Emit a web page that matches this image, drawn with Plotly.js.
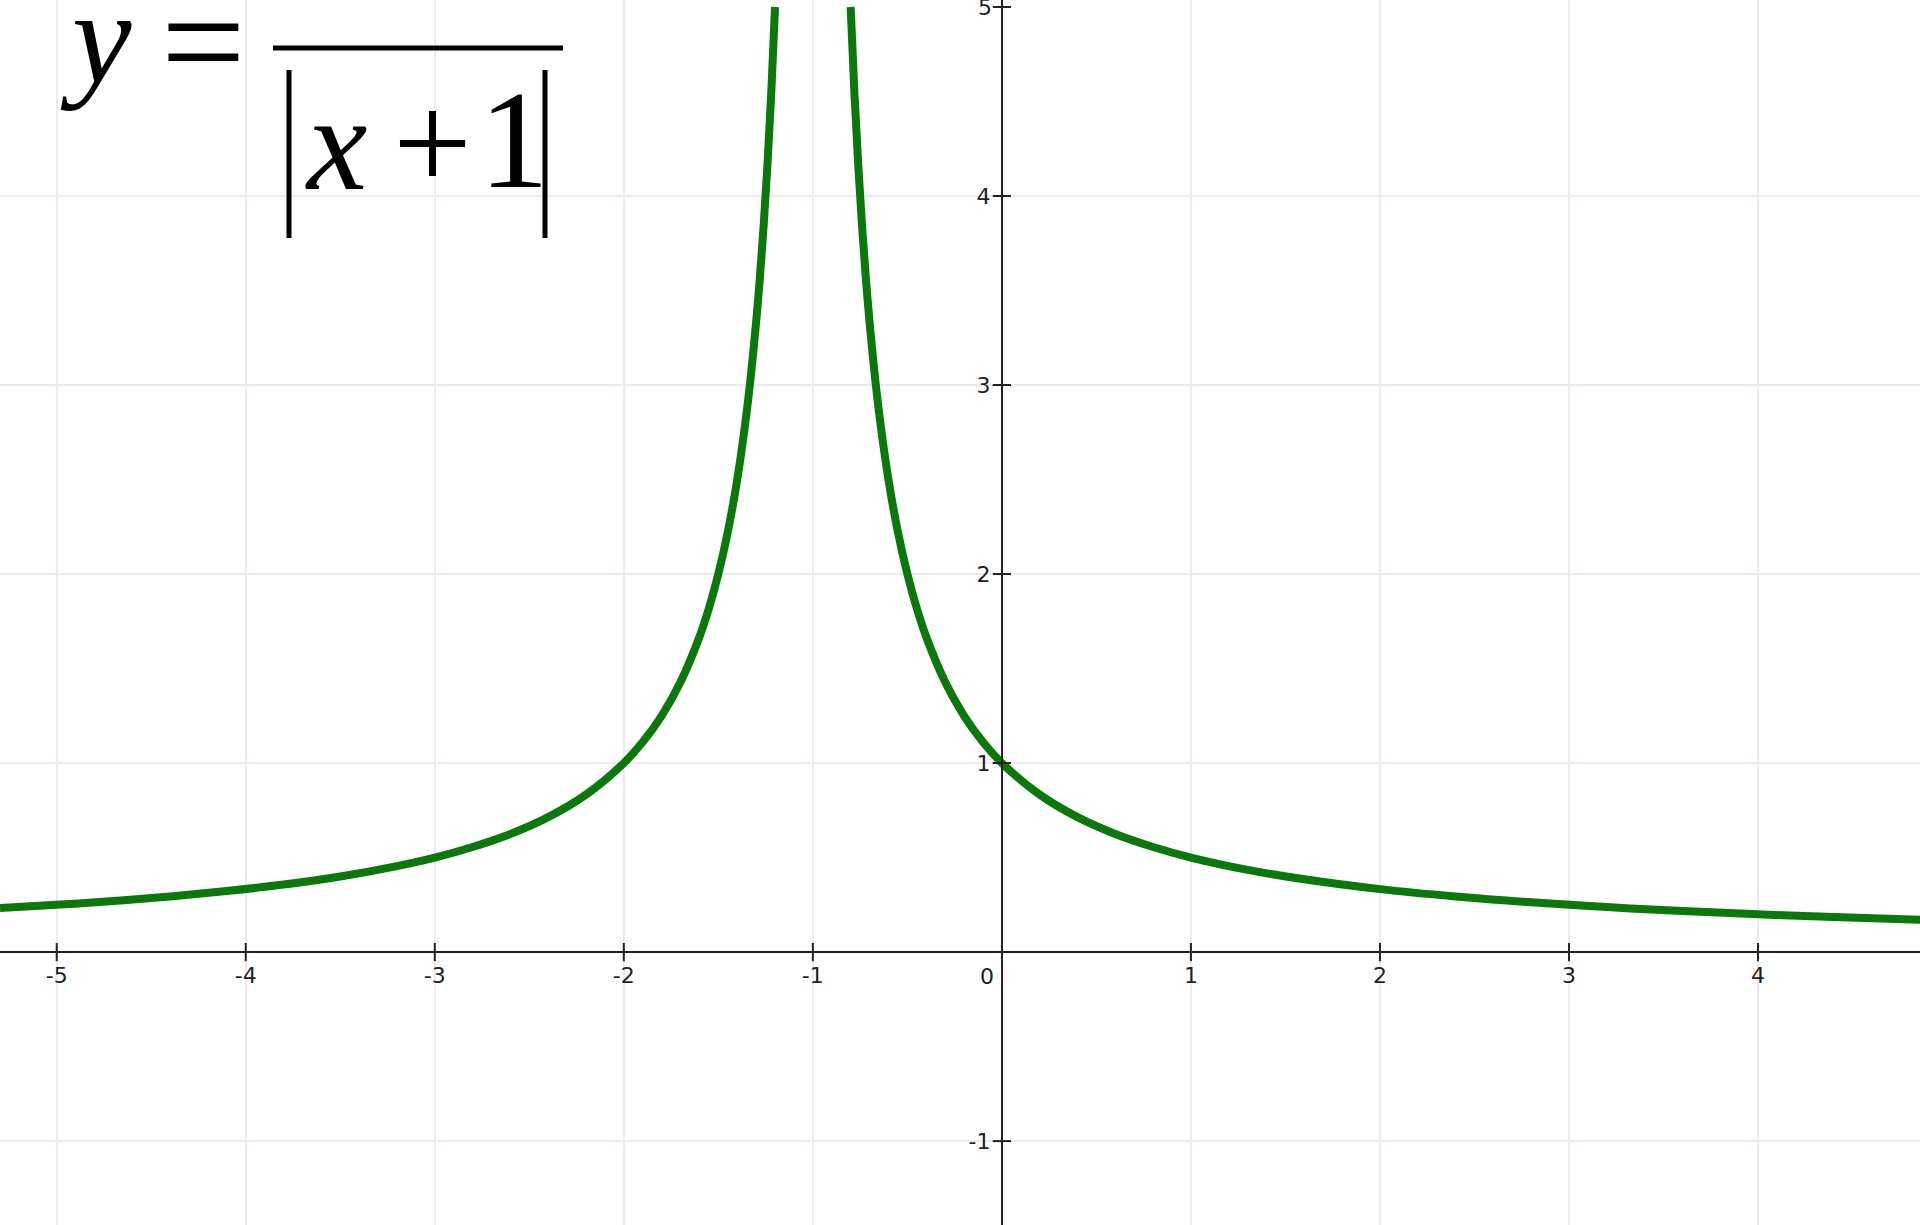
<!DOCTYPE html>
<html>
<head>
<meta charset="utf-8">
<script src="https://cdn.plot.ly/plotly-3.0.1.min.js"></script>
<style>
  html, body { margin: 0; padding: 0; background: #fff; }
  #chart { width: 1920px; height: 1225px; }
</style>
</head>
<body>
<div id="chart"></div>
<script>
// Curve y = 1/|x+1| (two branches around x = -1)
const leftX  = [-5.3, -5.0, -4.7, -4.4, -4.1, -3.8, -3.5, -3.2, -3.0, -2.8, -2.6, -2.4, -2.2, -2.0,
                -1.9, -1.8, -1.7, -1.6, -1.55, -1.5, -1.45, -1.4, -1.36, -1.33, -1.3, -1.28, -1.26,
                -1.24, -1.22, -1.2];
const leftY  = [0.233, 0.250, 0.270, 0.294, 0.323, 0.357, 0.400, 0.455, 0.500, 0.556, 0.625, 0.714,
                0.833, 1.000, 1.111, 1.250, 1.429, 1.667, 1.818, 2.000, 2.222, 2.500, 2.778, 3.030,
                3.333, 3.571, 3.846, 4.167, 4.545, 5.000];
const rightX = [-0.8, -0.78, -0.76, -0.74, -0.72, -0.7, -0.67, -0.64, -0.6, -0.55, -0.5, -0.45, -0.4,
                -0.3, -0.2, -0.1, 0, 0.2, 0.4, 0.6, 0.8, 1.0, 1.3, 1.6, 2.0, 2.4, 2.8, 3.2, 3.6,
                4.0, 4.4, 4.86];
const rightY = [5.000, 4.545, 4.167, 3.846, 3.571, 3.333, 3.030, 2.778, 2.500, 2.222, 2.000, 1.818,
                1.667, 1.429, 1.250, 1.111, 1.000, 0.833, 0.714, 0.625, 0.556, 0.500, 0.435, 0.385,
                0.333, 0.294, 0.263, 0.238, 0.217, 0.200, 0.185, 0.171];

// Axis ticks (hyphen minus as in the picture)
const xTicks = [-5, -4, -3, -2, -1, 1, 2, 3, 4];
const xTickText = ['-5', '-4', '-3', '-2', '-1', '1', '2', '3', '4'];
const yTicks = [-1, 1, 2, 3, 4];
const yTickText = ['-1', '1', '2', '3', '4'];
const yTopTick = 5;
const xRange = [-5.30, 4.857];
const yRange = [-1.444, 5.037];

const W = 1920, H = 1225;
const px = v => v / W;          // pixel -> paper x
const py = v => 1 - v / H;      // pixel -> paper y

const curveLine = { color: '#0a780a', width: 8, shape: 'spline', smoothing: 1 };
const allYTicks = yTicks.concat([yTopTick]);

const traces = [
    { x: leftX, y: leftY, type: 'scatter', mode: 'lines', line: curveLine, hoverinfo: 'skip' },
    { x: rightX, y: rightY, type: 'scatter', mode: 'lines', line: curveLine, hoverinfo: 'skip' },
    // cross-shaped tick marks on the axes
    { x: xTicks, y: xTicks.map(() => 0), type: 'scatter', mode: 'markers', cliponaxis: false,
      marker: { symbol: 'line-ns', size: 13, line: { width: 2, color: '#222' } }, hoverinfo: 'skip' },
    { x: allYTicks.map(() => 0), y: allYTicks, type: 'scatter', mode: 'markers', cliponaxis: false,
      marker: { symbol: 'line-ew', size: 13, line: { width: 2, color: '#222' } }, hoverinfo: 'skip' }
];

const tickFont = { family: 'DejaVu Sans, sans-serif', size: 22, color: '#222' };
const serif = 'Liberation Serif, Times New Roman, serif';

function glyph(text, cx, cy, size) {
    return { text: text, xref: 'paper', yref: 'paper', x: px(cx), y: py(cy),
             xanchor: 'center', yanchor: 'middle', showarrow: false,
             font: { family: serif, size: size, color: '#000' } };
}

const layout = {
    width: W, height: H,
    margin: { t: 0, r: 0, b: 0, l: 0 },
    showlegend: false,
    plot_bgcolor: '#fff',
    paper_bgcolor: '#fff',
    xaxis: {
        range: xRange, tickvals: xTicks, ticktext: xTickText, ticks: '',
        anchor: 'free', position: (0 - yRange[0]) / (yRange[1] - yRange[0]),
        showline: true, linecolor: '#222', linewidth: 2,
        showgrid: true, gridcolor: '#eaeaf4', gridwidth: 2,
        zeroline: false, tickfont: tickFont, ticklabelstandoff: 4
    },
    yaxis: {
        range: yRange, tickvals: yTicks, ticktext: yTickText, ticks: '',
        anchor: 'free', position: (0 - xRange[0]) / (xRange[1] - xRange[0]),
        showline: true, linecolor: '#222', linewidth: 2,
        showgrid: true, gridcolor: '#eaeaf4', gridwidth: 2,
        zeroline: false, tickfont: tickFont, ticklabelstandoff: 6
    },
    annotations: [
        { text: '0', x: 0, y: 0, xref: 'x', yref: 'y', xanchor: 'right', yanchor: 'top',
          xshift: -6, yshift: -10, showarrow: false, font: tickFont },
        { text: String(yTopTick), x: 0, y: yTopTick, xref: 'x', yref: 'y', xanchor: 'right', yanchor: 'middle',
          xshift: -8, yshift: -1, showarrow: false, font: tickFont },
        glyph('<i>y</i>', 96, 38, 134),
        glyph('=', 203, 41, 150),
        glyph('<i>x</i>', 336, 143, 136),
        glyph('+', 432, 142, 140),
        glyph('1', 514, 139, 140)
    ],
    shapes: [
        { type: 'line', xref: 'paper', yref: 'paper', x0: px(273), x1: px(563), y0: py(48), y1: py(48),
          line: { color: '#000', width: 5 } },
        { type: 'line', xref: 'paper', yref: 'paper', x0: px(289), x1: px(289), y0: py(70), y1: py(238),
          line: { color: '#000', width: 5 } },
        { type: 'line', xref: 'paper', yref: 'paper', x0: px(545), x1: px(545), y0: py(70), y1: py(238),
          line: { color: '#000', width: 5 } }
    ]
};

Plotly.newPlot('chart', traces, layout, { displayModeBar: false, staticPlot: true });
</script>
</body>
</html>
